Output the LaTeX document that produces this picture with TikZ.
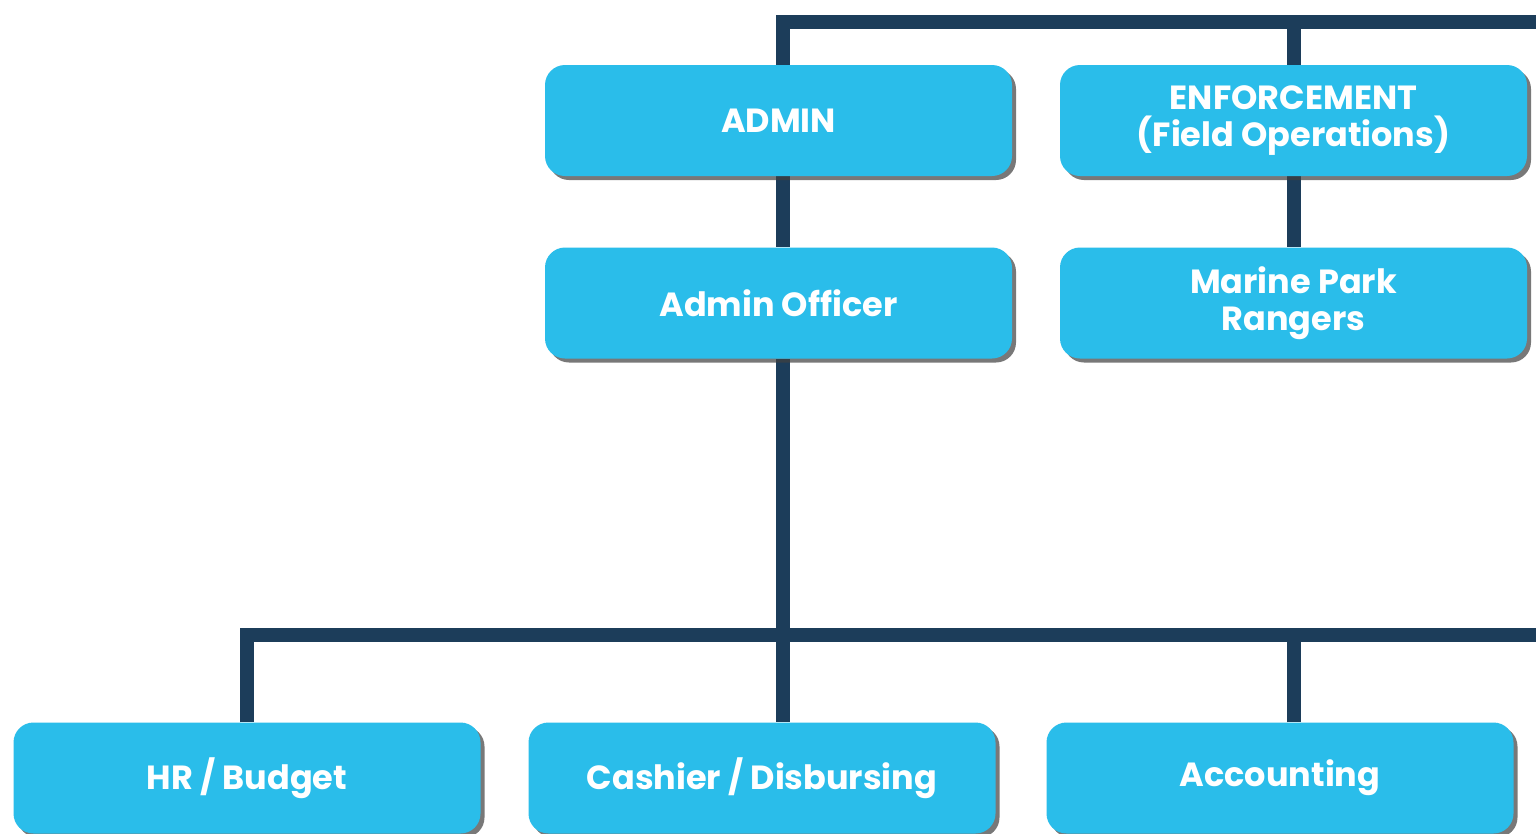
\documentclass[tikz,border=0pt]{standalone}
\usepackage{fontspec}
\newfontfamily\boxfont{Poppins}
\usetikzlibrary{shadows,backgrounds}
\definecolor{boxblue}{HTML}{2ABDEA}
\definecolor{linenavy}{HTML}{1C3D5A}
\tikzset{
  unitbox/.style={rounded corners=20pt, fill=boxblue, text=white, align=center,
    minimum width=467pt, minimum height=111pt, inner sep=0pt,
    font=\boxfont\bfseries\fontsize{33.5}{37}\selectfont,
    drop shadow={shadow xshift=4pt, shadow yshift=-4pt, fill=black!75, opacity=0.7}},
  conn/.style={draw=linenavy, line width=14pt, line join=miter}
}
\begin{document}
\begin{tikzpicture}[x=1pt,y=-1pt]
\useasboundingbox (0,0) rectangle (1536,833);
% coordinates for the open ends of the buses
\coordinate (topR) at (1536,22);
\coordinate (busR) at (1536,635);
% boxes
\node[unitbox] (admin) at (778.5,120.5) {ADMIN};
\node[unitbox] (enf) at (1293.5,120.5) {ENFORCEMENT\\(Field Operations)};
\node[unitbox] (off) at (778.5,303) {Admin Officer};
\node[unitbox] (mpr) at (1293.5,303) {Marine Park\\Rangers};
\node[unitbox] (hr) at (247,778) {HR / Budget};
\node[unitbox] (cash) at (762,778) {Cashier / Disbursing};
\node[unitbox] (acc) at (1280,778) {Accounting};
% connectors (behind the boxes)
\begin{scope}[on background layer]
\fill[white] (0,0) rectangle (1536,833);
\draw[conn] ([xshift=4.5pt]admin.north) |- (topR);
\draw[conn] (enf.north) -- (enf.north |- topR);
\draw[conn] ([xshift=4.5pt]admin.south) -- ([xshift=4.5pt]off.north);
\draw[conn] (enf.south) -- (mpr.north);
\draw[conn] (hr.north) |- (busR);
\draw[conn] ([xshift=4.5pt]off.south) -- ([xshift=4.5pt]off.south |- cash.north);
\draw[conn] (mpr.south |- acc.north) -- (mpr.south |- busR);
\end{scope}
\end{tikzpicture}
\end{document}
